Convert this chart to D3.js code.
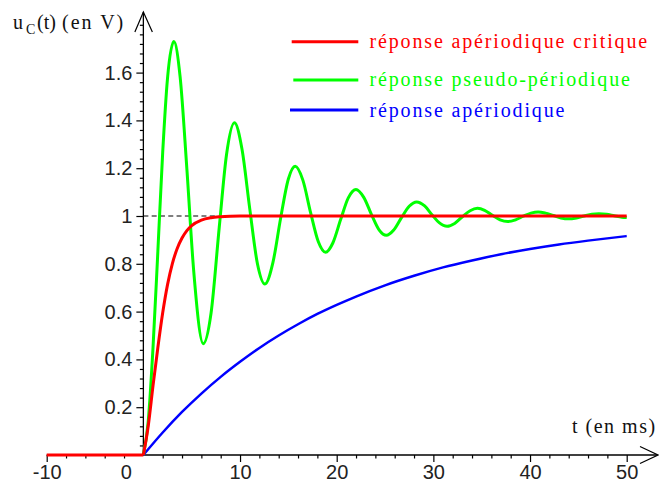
<!DOCTYPE html>
<html><head><meta charset="utf-8">
<script src="https://cdn.jsdelivr.net/npm/d3@7"></script>
<style>
html,body{margin:0;padding:0;background:#fff;}
svg{display:block;}
.tick text{font-family:"Liberation Sans",Arial,sans-serif;font-size:20px;fill:#222;}
.ser{font-family:"Liberation Serif","Times New Roman",serif;font-size:20px;}
</style></head>
<body>
<script>
// ---- data ----
const xTicks = [-10, 10, 20, 30, 40, 50];
const xTickLabels = ["-10", "10", "20", "30", "40", "50"];
const originLabel = "0";
const yTicks = [0.2, 0.4, 0.6, 0.8, 1, 1.2, 1.4, 1.6];
const yTickLabels = ["0.2", "0.4", "0.6", "0.8", "1", "1.2", "1.4", "1.6"];
const xMinor = [-8,-6,-4,-2,2,4,6,8,12,14,16,18,22,24,26,28,32,34,36,38,42,44,46,48];
const yMinor = [0.04,0.08,0.12,0.16,0.24,0.28,0.32,0.36,0.44,0.48,0.52,0.56,0.64,0.68,0.72,0.76,0.84,0.88,0.92,0.96,1.04,1.08,1.12,1.16,1.24,1.28,1.32,1.36,1.44,1.48,1.52,1.56,1.64,1.68,1.72,1.76,1.8];

const seriesNames = ["réponse apériodique critique", "réponse pseudo-périodique", "réponse apériodique"];
const seriesColors = ["#ff0000", "#00ff00", "#0000ff"];

// value before the step (t < 0)
const tFlat = [-10, 0];
const uFlat = [0, 0];

// critical (red)
const tRed = [0,0.5,1,1.5,2,2.5,3,3.5,4,4.5,5,6,7,8,9,10,50];
const uRed = [0,0.12,0.29,0.45,0.595,0.713,0.801,0.864,0.908,0.939,0.960,0.983,0.993,0.997,0.999,1,1];

// pseudo-periodic (green)
const tGreen = [0,0.5,1,1.5,2,2.5,3.15,3.8,4.5,5.2,6.2,7.0,7.85,8.6,9.42,10.2,11.0,11.8,12.57,13.4,14.2,15.0,15.71,16.5,17.3,18.1,18.85,19.6,20.4,21.2,21.99,22.8,23.6,24.4,25.13,25.9,26.7,27.5,28.27,29.1,29.9,30.6,31.42,32.2,33.0,33.8,34.56,35.3,36.1,36.9,37.7,38.5,39.3,40.1,40.84,41.6,42.4,43.2,43.98,44.8,45.6,46.4,47.12,47.9,48.7,49.5,50];
const uGreen = [0,0.14,0.45,0.853,1.266,1.577,1.730,1.583,1.197,0.774,0.466,0.593,0.953,1.256,1.390,1.280,1.032,0.800,0.715,0.805,0.991,1.155,1.208,1.150,1.014,0.892,0.848,0.887,0.984,1.076,1.111,1.078,1.006,0.941,0.919,0.941,0.993,1.041,1.059,1.042,1.003,0.972,0.957,0.969,0.997,1.022,1.032,1.024,1.003,0.984,0.977,0.984,0.999,1.012,1.017,1.012,1.002,0.992,0.988,0.992,1.000,1.007,1.009,1.007,1.001,0.995,0.994];

// aperiodic (blue)
const tBlue = [0,2,4,6,8,10,12,14,16,18,20,22,25,28,31,34,37,40,43,46,50];
const uBlue = [0,0.094,0.180,0.257,0.327,0.390,0.448,0.500,0.547,0.590,0.628,0.663,0.710,0.750,0.785,0.814,0.840,0.862,0.881,0.897,0.916];

const dashedEnd = 7.6;

// ---- drawing ----
const W = 659, H = 485;
const svg = d3.select("body").append("svg").attr("width", W).attr("height", H);

const x = d3.scaleLinear().domain([-10, 50]).range([46.7, 626.7]);
const y = d3.scaleLinear().domain([0, 1]).range([455, 216]);

const x0 = x(0), y0 = y(0);

// dashed reference line at 1
svg.append("line").attr("x1", x0).attr("x2", x(dashedEnd)).attr("y1", y(1)).attr("y2", y(1))
  .attr("stroke", "#000").attr("stroke-width", 1.2).attr("stroke-dasharray", "5,3.3");

// axes lines
svg.append("line").attr("x1", x(-10)).attr("x2", 657).attr("y1", y0).attr("y2", y0).attr("stroke", "#000").attr("stroke-width", 1.3);
svg.append("line").attr("x1", x0).attr("x2", x0).attr("y1", y0).attr("y2", 12).attr("stroke", "#000").attr("stroke-width", 1.3);
// arrow heads
svg.append("path").attr("d", `M${x0-8.5},32 L${x0},12 L${x0+9},32`).attr("fill", "none").attr("stroke", "#000").attr("stroke-width", 1.2);
svg.append("path").attr("d", `M640,${y0-8.5} L658,${y0} L640,${y0+8.5}`).attr("fill", "none").attr("stroke", "#000").attr("stroke-width", 1.2);

// x axis major
const gx = svg.append("g").attr("transform", `translate(0,${y0})`)
  .call(d3.axisBottom(x).tickValues(xTicks).tickFormat((d, i) => xTickLabels[i]).tickSize(7).tickPadding(3));
gx.select(".domain").remove();
const gxm = svg.append("g").attr("transform", `translate(0,${y0})`)
  .call(d3.axisBottom(x).tickValues(xMinor).tickFormat("").tickSize(3.5));
gxm.select(".domain").remove();

// origin label
svg.append("text").attr("x", x0 - 17).attr("y", y0 + 10).attr("dy", "0.71em").attr("text-anchor", "middle")
  .attr("font-family", '"Liberation Sans",Arial,sans-serif').attr("font-size", 20).attr("fill", "#222").text(originLabel);

// y axis major
const gy = svg.append("g").attr("transform", `translate(${x0},0)`)
  .call(d3.axisLeft(y).tickValues(yTicks).tickFormat((d, i) => yTickLabels[i]).tickSize(7).tickPadding(4));
gy.select(".domain").remove();
const gym = svg.append("g").attr("transform", `translate(${x0},0)`)
  .call(d3.axisLeft(y).tickValues(yMinor).tickFormat("").tickSize(3.5));
gym.select(".domain").remove();
svg.selectAll(".tick line").attr("stroke", "#000").attr("stroke-width", 1.2);

// curves
const line = d3.line().x(d => x(d[0])).y(d => y(d[1])).curve(d3.curveMonotoneX);
const pairs = (ts, us) => ts.map((t, i) => [t, us[i]]);
svg.append("path").datum(pairs(tBlue, uBlue)).attr("d", line).attr("fill", "none").attr("stroke", seriesColors[2]).attr("stroke-width", 2.5);
svg.append("path").datum(pairs(tGreen, uGreen)).attr("d", line).attr("fill", "none").attr("stroke", seriesColors[1]).attr("stroke-width", 3);
svg.append("path").datum(pairs(tRed, uRed)).attr("d", line).attr("fill", "none").attr("stroke", seriesColors[0]).attr("stroke-width", 3);
svg.append("path").datum(pairs(tFlat, uFlat)).attr("d", line).attr("fill", "none").attr("stroke", seriesColors[0]).attr("stroke-width", 3);

// legend
const legY = [41.7, 80, 110];
const legTextY = [48.3, 85.5, 116.5];
const legX1 = [291.7, 293.3, 290];
seriesNames.forEach((name, i) => {
  svg.append("line").attr("x1", legX1[i]).attr("x2", 358.3).attr("y1", legY[i]).attr("y2", legY[i])
    .attr("stroke", seriesColors[i]).attr("stroke-width", 3);
  svg.append("text").attr("class", "ser").attr("x", 369.5).attr("y", legTextY[i])
    .attr("fill", seriesColors[i]).attr("letter-spacing", "1.85px").text(name);
});

// axis titles
const yt = svg.append("text").attr("class", "ser").attr("y", 29).attr("fill", "#111");
yt.append("tspan").attr("x", 13).text("u");
yt.append("tspan").attr("x", 26).attr("dy", 5).attr("font-size", 14).text("C");
yt.append("tspan").attr("x", 37).attr("dy", -5).text("(t)");
yt.append("tspan").attr("x", 62).attr("letter-spacing", "2px").text("(en V)");

svg.append("text").attr("class", "ser").attr("x", 572).attr("y", 433).attr("fill", "#111")
  .attr("letter-spacing", "1.5px").text("t (en ms)");
</script>
</body></html>
